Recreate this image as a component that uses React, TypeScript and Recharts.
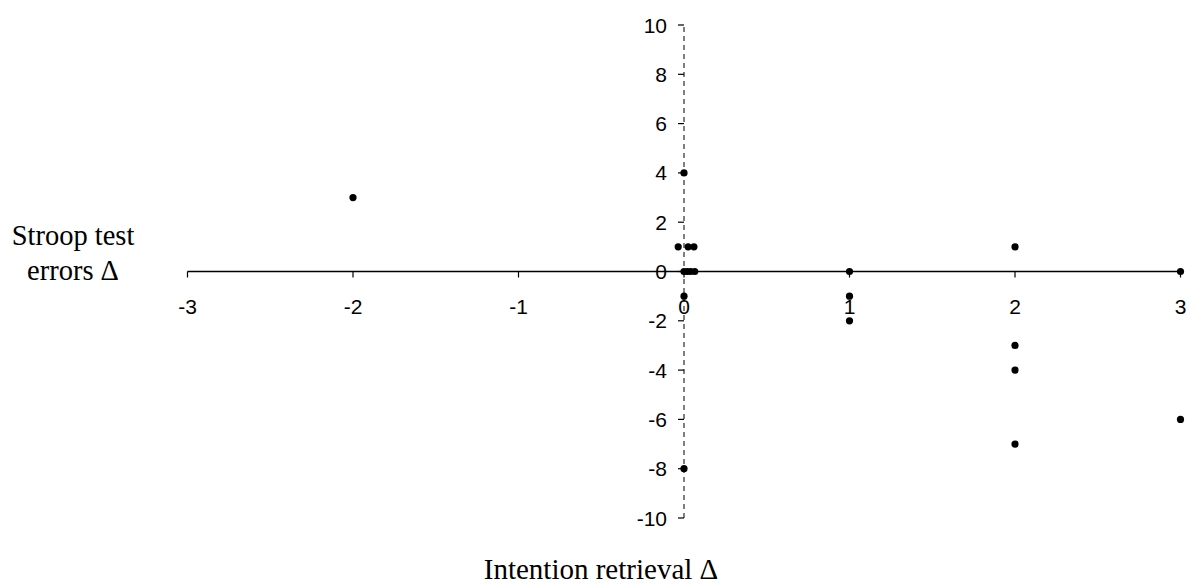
import React from "react";
import {
  ScatterChart,
  Scatter,
  XAxis,
  YAxis,
  ReferenceLine,
  ReferenceDot,
} from "recharts";

// Intention retrieval delta (x) vs Stroop test errors delta (y)
const retrievalDelta = [-2, 0, 0, -0.035, 0.025, 0.06, 0, 0.02, 0.04, 0.065, 0, 1, 1, 1, 2, 2, 2, 2, 3, 3];
const stroopDelta = [3, 4, -8, 1, 1, 1, 0, 0, 0, 0, -1, 0, -1, -2, 1, -3, -4, -7, 0, -6];

const xTicks = [-3, -2, -1, 0, 1, 2, 3];
const yTicks = [10, 8, 6, 4, 2, 0, -2, -4, -6, -8, -10];

const xTitle = "Intention retrieval Δ";
const yTitle = ["Stroop test", "errors Δ"];

const data = retrievalDelta.map((x, i) => ({ x, y: stroopDelta[i] }));

const tickFont = { fontFamily: "'Liberation Sans', Arial, sans-serif", fontSize: 21, fill: "#000" };
const titleFont = "'Liberation Serif', 'Times New Roman', serif";

function XTickMark({ cx, cy, label }: any) {
  return (
    <g>
      <line x1={cx} y1={cy} x2={cx} y2={cy + 6} stroke="#000" strokeWidth={1.2} />
      <text x={cx} y={cy + 42} textAnchor="middle" {...tickFont}>
        {label}
      </text>
    </g>
  );
}

function YTickMark({ cx, cy, label }: any) {
  return (
    <g>
      <line x1={cx - 6} y1={cy} x2={cx} y2={cy} stroke="#000" strokeWidth={1.2} />
      <text x={cx - 17} y={cy + 7.5} textAnchor="end" {...tickFont}>
        {label}
      </text>
    </g>
  );
}

function Dot({ cx, cy }: any) {
  return <circle cx={cx} cy={cy} r={3.6} fill="#000" />;
}

export default function App() {
  return (
    <div style={{ position: "absolute", left: 0, top: 0, width: 1187, height: 586, background: "#fff" }}>
      <ScatterChart width={1187} height={586} margin={{ top: 25, right: 6.5, bottom: 68, left: 187.5 }}>
        <XAxis type="number" dataKey="x" domain={[-3, 3]} hide />
        <YAxis type="number" dataKey="y" domain={[-10, 10]} hide />
        <ReferenceLine x={0} stroke="#000" strokeWidth={1} strokeDasharray="5 4" />
        <ReferenceLine y={0} stroke="#000" strokeWidth={1.4} />
        {xTicks.map((t) => (
          <ReferenceDot
            key={`x${t}`}
            x={t}
            y={0}
            ifOverflow="visible"
            shape={(p: any) => <XTickMark {...p} label={String(t)} />}
          />
        ))}
        {yTicks.map((t) => (
          <ReferenceDot
            key={`y${t}`}
            x={0}
            y={t}
            ifOverflow="visible"
            shape={(p: any) => <YTickMark {...p} label={String(t)} />}
          />
        ))}
        <Scatter data={data} shape={<Dot />} isAnimationActive={false} />
      </ScatterChart>
      <svg
        width={1187}
        height={586}
        style={{ position: "absolute", left: 0, top: 0, pointerEvents: "none" }}
      >
        <text x={73} y={245} textAnchor="middle" fontFamily={titleFont} fontSize={28.5} fill="#000">
          {yTitle[0]}
        </text>
        <text x={73} y={280} textAnchor="middle" fontFamily={titleFont} fontSize={28.5} fill="#000">
          {yTitle[1]}
        </text>
        <text x={601} y={579} textAnchor="middle" fontFamily={titleFont} fontSize={29} fill="#000">
          {xTitle}
        </text>
      </svg>
    </div>
  );
}
